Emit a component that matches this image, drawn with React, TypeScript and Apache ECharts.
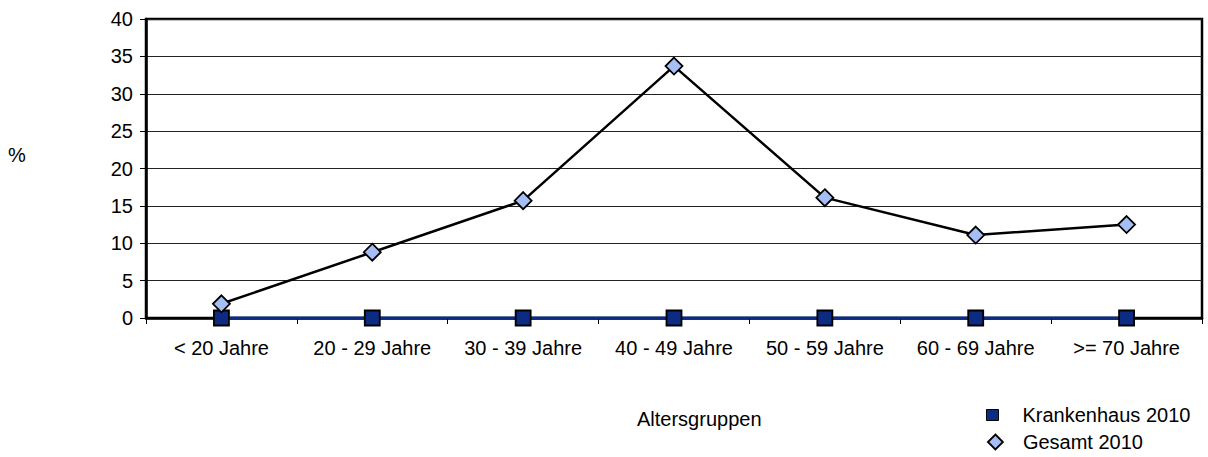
import React, { useEffect, useRef } from "react";
import * as echarts from "echarts";

const categories = ["< 20 Jahre", "20 - 29 Jahre", "30 - 39 Jahre", "40 - 49 Jahre", "50 - 59 Jahre", "60 - 69 Jahre", ">= 70 Jahre"];
const krankenhaus2010 = [0, 0, 0, 0, 0, 0, 0];
const gesamt2010 = [1.9, 8.8, 15.7, 33.7, 16.1, 11.1, 12.5];
const yTicks = { min: 0, max: 40, interval: 5 };
const xAxisTitle = "Altersgruppen";
const yAxisTitle = "%";
const seriesNames = ["Krankenhaus 2010", "Gesamt 2010"];

const FONT = "'Liberation Sans', Arial, sans-serif";
const FS = 20;
const NAVY = "#0c2b82";
const LIGHT = "#a6bef6";

export default function App() {
  const ref = useRef<HTMLDivElement>(null);
  useEffect(() => {
    document.body.style.margin = "0";
    const chart = echarts.init(ref.current!, null, { renderer: "svg" });
    chart.setOption({
      animation: false,
      backgroundColor: "#fff",
      textStyle: { fontFamily: FONT, color: "#000" },
      grid: { left: 146, right: 6, top: 19, bottom: 139, show: true, borderColor: "#000", borderWidth: 2.5, backgroundColor: "transparent" },
      xAxis: {
        type: "category",
        data: categories,
        boundaryGap: true,
        axisLine: { show: true, lineStyle: { color: "#000", width: 2.5 } },
        axisTick: { show: true, interval: 0, length: 6, lineStyle: { color: "#000", width: 1 } },
        axisLabel: { interval: 0, margin: 20, fontSize: FS, color: "#000", fontFamily: FONT },
        splitLine: { show: false },
      },
      yAxis: {
        type: "value",
        min: yTicks.min,
        max: yTicks.max,
        interval: yTicks.interval,
        axisLine: { show: true, lineStyle: { color: "#000", width: 2.5 } },
        axisTick: { show: true, length: 6, lineStyle: { color: "#000", width: 1 } },
        axisLabel: { margin: 13, fontSize: FS, color: "#000", fontFamily: FONT },
        splitLine: { show: true, lineStyle: { color: "#222", width: 1 } },
      },
      legend: [
        {
          data: [{ name: seriesNames[0], icon: "rect", itemStyle: { color: NAVY, borderColor: "#000", borderWidth: 1 } }],
          left: 986,
          top: 405,
          padding: 0,
          itemWidth: 12,
          itemHeight: 11,
          textStyle: { fontSize: FS, color: "#000", fontFamily: FONT, padding: [0, 0, 0, 19] },
        },
        {
          data: [{ name: seriesNames[1], icon: "diamond", itemStyle: { color: LIGHT, borderColor: "#000", borderWidth: 1.8 } }],
          left: 987,
          top: 432,
          padding: 0,
          itemWidth: 15,
          itemHeight: 15,
          textStyle: { fontSize: FS, color: "#000", fontFamily: FONT, padding: [0, 0, 0, 15] },
        },
      ],
      graphic: [
        { type: "text", left: 637, top: 409, style: { text: xAxisTitle, font: `${FS}px ${FONT}`, fill: "#000" } },
        { type: "text", left: 8, top: 145, style: { text: yAxisTitle, font: `${FS}px ${FONT}`, fill: "#000" } },
      ],
      series: [
        {
          name: seriesNames[0],
          type: "line",
          data: krankenhaus2010,
          symbol: "rect",
          symbolSize: 15,
          itemStyle: { color: NAVY, borderColor: "#000", borderWidth: 1.8 },
          lineStyle: { color: NAVY, width: 3 },
          z: 3,
        },
        {
          name: seriesNames[1],
          type: "line",
          data: gesamt2010,
          symbol: "diamond",
          symbolSize: 17,
          itemStyle: { color: LIGHT, borderColor: "#000", borderWidth: 1.8 },
          lineStyle: { color: "#000", width: 2.5 },
          z: 4,
        },
      ],
    });
    return () => chart.dispose();
  }, []);
  return <div ref={ref} style={{ width: 1208, height: 457 }} />;
}
